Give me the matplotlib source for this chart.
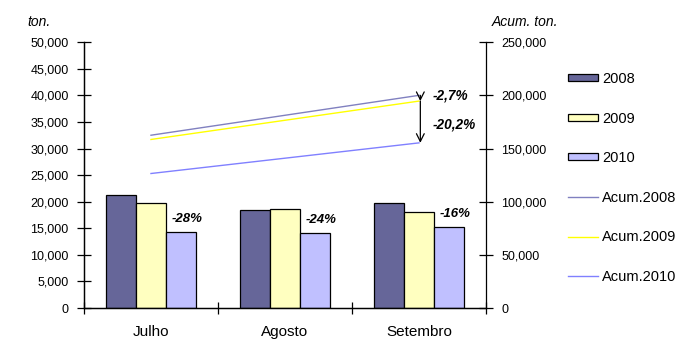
import numpy as np
import matplotlib.pyplot as plt
from matplotlib.patches import Patch
from matplotlib.lines import Line2D

plt.rcParams['font.family'] = ['Liberation Sans', 'DejaVu Sans']

meses = ['Julho', 'Agosto', 'Setembro']
anos = ['2008', '2009', '2010']
ton_2008 = [21200, 18350, 19700]
ton_2009 = [19700, 18650, 18100]
ton_2010 = [14250, 14150, 15250]
acum_2008 = [162500, 181000, 200000]
acum_2009 = [158500, 177000, 194600]
acum_2010 = [126500, 141000, 155300]
var_mes = ['-28%', '-24%', '-16%']
var_acum = ['-2,7%', '-20,2%']

cor_barras = ['#666699', '#FFFFC0', '#C0C0FF']
cor_linhas = ['#8080C0', '#FFFF00', '#8080FF']

fig = plt.figure(figsize=(6.8, 3.4), dpi=100)
ax = fig.add_axes([0.1235, 0.094, 0.5912, 0.782])
ax2 = ax.twinx()

x = np.arange(len(meses))
w = 0.224
for i, vals in enumerate([ton_2008, ton_2009, ton_2010]):
    ax.bar(x + (i - 1) * w, vals, w, color=cor_barras[i], edgecolor='black',
           linewidth=0.9, zorder=2)

# variacao mensal 2010 vs 2009
for i, t in enumerate(var_mes):
    ax.text(x[i] + w + 0.045, ton_2010[i] + 2500, t, fontsize=9.5,
            fontweight='bold', fontstyle='italic', ha='center', va='center')

# linhas acumuladas (Julho a Setembro)
for vals, c in zip([acum_2008, acum_2009, acum_2010], cor_linhas):
    ax2.plot([x[0], x[-1]], [vals[0], vals[-1]], color=c, linewidth=1)

xa = x[-1] + 0.01
ax2.annotate('', xy=(xa, acum_2009[-1]), xytext=(xa, acum_2008[-1]),
             arrowprops=dict(arrowstyle='->', color='black', lw=0.9,
                             shrinkA=0, shrinkB=0, mutation_scale=14))
ax2.annotate('', xy=(xa, acum_2010[-1]), xytext=(xa, acum_2009[-1]),
             arrowprops=dict(arrowstyle='->', color='black', lw=0.9,
                             shrinkA=0, shrinkB=0, mutation_scale=14))
ax2.text(xa + 0.09, acum_2008[-1] - 200, var_acum[0], fontsize=9.8,
         fontweight='bold', fontstyle='italic', ha='left', va='center')
ax2.text(xa + 0.09, 173000, var_acum[1], fontsize=9.8,
         fontweight='bold', fontstyle='italic', ha='left', va='center')

ax.set_xlim(-0.5, 2.5)
ax.set_ylim(0, 50000)
ax2.set_ylim(0, 250000)
ax.set_yticks(np.arange(0, 50001, 5000))
ax2.set_yticks(np.arange(0, 250001, 50000))
ax.yaxis.set_major_formatter(plt.FuncFormatter(lambda v, p: f'{int(v):,}'))
ax2.yaxis.set_major_formatter(plt.FuncFormatter(lambda v, p: f'{int(v):,}'))

ax.set_xticks(x)
ax.set_xticklabels(meses)
ax.set_xticks([-0.5, 0.5, 1.5, 2.5], minor=True)
ax.tick_params(axis='x', which='major', length=0, pad=12.5, labelsize=11)
ax.tick_params(axis='x', which='minor', length=8, direction='inout', width=0.9)
ax.tick_params(axis='y', length=10, direction='inout', width=0.9, labelsize=9, pad=6)
ax2.tick_params(axis='y', length=10, direction='inout', width=0.9, labelsize=9, pad=6)

for a in (ax, ax2):
    a.spines['top'].set_visible(False)
    for s in ['left', 'right', 'bottom']:
        a.spines[s].set_linewidth(0.9)
ax.spines['right'].set_visible(False)

fig.text(39 / 680, 1 - 22 / 340, 'ton.', fontsize=10, fontstyle='italic',
         ha='center', va='center')
fig.text(558 / 680, 1 - 22 / 340, 'Acum. ton.', fontsize=10, fontstyle='italic',
         ha='right', va='center')

handles = [Patch(facecolor=c, edgecolor='black', linewidth=0.9) for c in cor_barras]
handles += [Line2D([], [], color=c, linewidth=1) for c in cor_linhas]
labels = anos + ['Acum.' + a for a in anos]
fig.legend(handles, labels, loc='upper left', bbox_to_anchor=(568 / 680, 1 - 72 / 340),
           frameon=False, fontsize=10.5, labelspacing=1.75, handlelength=2.05,
           handleheight=0.35, handletextpad=0.27, borderpad=0, borderaxespad=0)

fig.savefig('out.png', dpi=100)
